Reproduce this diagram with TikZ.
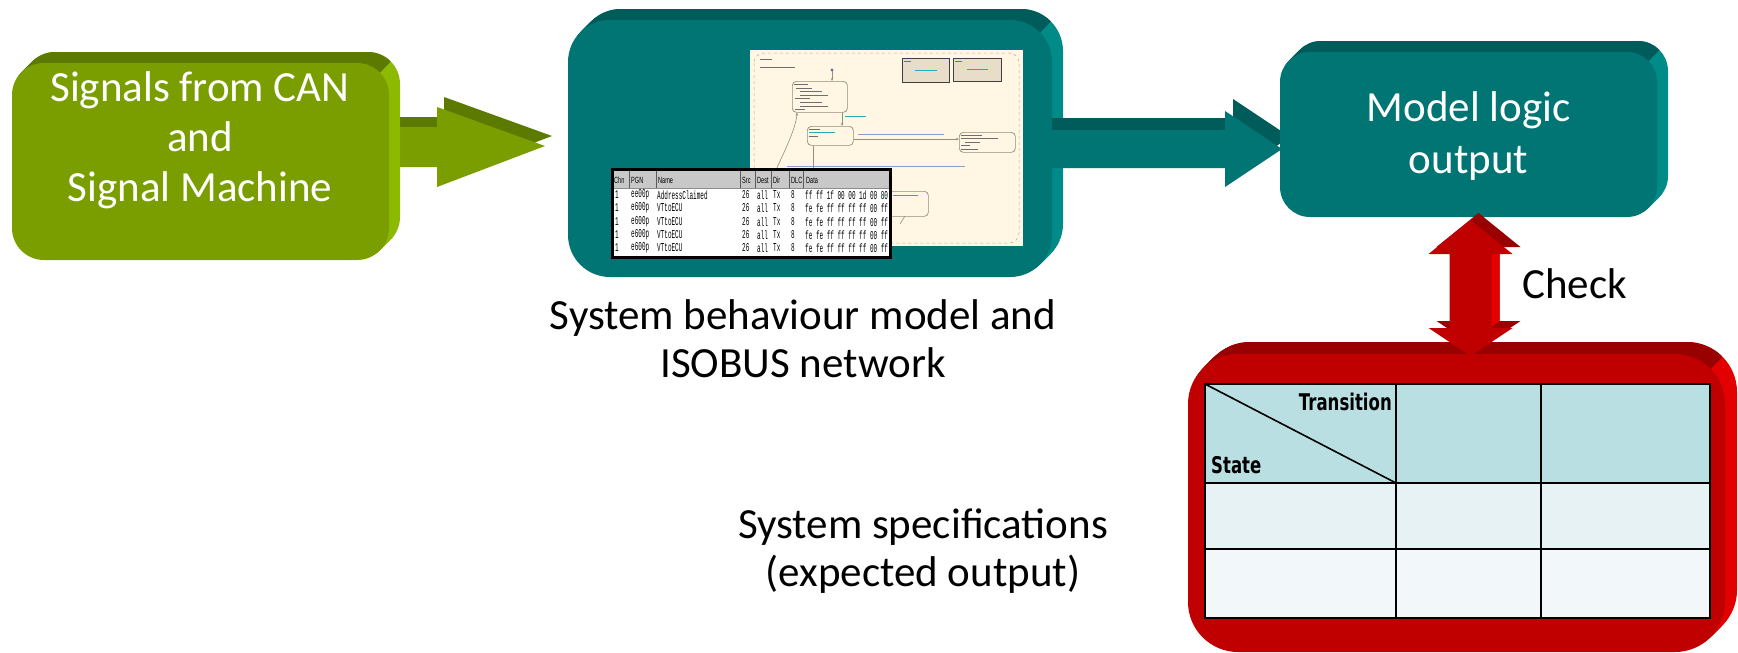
\documentclass[tikz,border=0pt]{standalone}
\usepackage{fontspec}
\usepackage{graphicx}
\setmainfont{Carlito}
\newfontfamily\canmono{Liberation Mono}
\newfontfamily\cansans{Liberation Sans}
\newfontfamily\cellsans{DejaVu Sans}
\usetikzlibrary{calc,arrows.meta}

\definecolor{grnF}{RGB}{122,158,0}
\definecolor{grnT}{RGB}{92,122,0}
\definecolor{grnS}{RGB}{140,186,0}
\definecolor{tealF}{RGB}{0,117,115}
\definecolor{tealT}{RGB}{0,92,90}
\definecolor{tealS}{RGB}{0,138,136}
\definecolor{redF}{RGB}{192,0,0}
\definecolor{redT}{RGB}{153,0,0}
\definecolor{redS}{RGB}{226,0,0}
\definecolor{hdrCell}{RGB}{185,223,227}
\definecolor{rowA}{RGB}{230,242,244}
\definecolor{rowB}{RGB}{242,247,250}
\definecolor{cream}{RGB}{255,246,228}
\definecolor{chartLine}{RGB}{150,140,120}
\definecolor{chartTan}{RGB}{232,221,200}
\definecolor{canHead}{RGB}{200,200,200}
\definecolor{inkBlue}{RGB}{90,110,190}
\definecolor{inkTeal}{RGB}{40,170,190}
\definecolor{inkGray}{RGB}{110,110,110}

% Extruded rounded box: name, x1, y1, x2, y2 (outer bounds), depth, radius, colour prefix
\newcommand\extbox[8]{%
  \foreach \stp in {1,...,#6} {
    \fill[#8S, rounded corners=#7pt, xshift=\stp pt, yshift=\stp pt]
      (#2,#3+#6) rectangle (#4-#6,#5);
  }
  \begin{scope}
    \clip (#2-80,#3-80) -- (#4+80,#3-80) -- (#2-80,#4+#3-#2+80) -- cycle;
    \foreach \stp in {1,...,#6} {
      \fill[#8T, rounded corners=#7pt, xshift=\stp pt, yshift=\stp pt]
        (#2,#3+#6) rectangle (#4-#6,#5);
    }
  \end{scope}
  \node[fill=#8F, rounded corners=#7pt, inner sep=0pt, outer sep=0pt,
        minimum width={(#4-#6-#2)*1pt}, minimum height={(#5-#3-#6)*1pt},
        anchor=north west] (#1) at (#2,#3+#6) {};
}

% One line of the CAN trace
\newcommand\canrow[4]{%
  \node[cancell] at (615,#1) {\scalebox{0.5}[1]{1}};
  \node[cancell] at (631,#1) {\scalebox{0.5}[1]{#2}};
  \node[cancell] at (657,#1) {\scalebox{0.5}[1]{#3}};
  \node[cancell] at (742,#1) {\scalebox{0.5}[1]{26}};
  \node[cancell] at (757,#1) {\scalebox{0.5}[1]{all}};
  \node[cancell] at (773,#1) {\scalebox{0.5}[1]{Tx}};
  \node[cancell] at (791,#1) {\scalebox{0.5}[1]{8}};
  \node[cancell] at (805,#1) {\scalebox{0.5}[1]{#4}};
}

\tikzset{
  boxtext/.style={text=white, align=center, inner sep=0pt, font=\fontsize{43}{50}\selectfont},
  caption/.style={text=black, align=center, inner sep=0pt, font=\fontsize{43}{48}\selectfont},
  tblhead/.style={inner sep=0pt, font=\cellsans\bfseries\fontsize{23}{23}\selectfont},
  cancell/.style={anchor=west, inner sep=0pt, font=\canmono\fontsize{12}{12}\selectfont},
  canhead/.style={anchor=west, inner sep=0pt, font=\cansans\fontsize{9}{9}\selectfont},
  chartbox/.style={draw=chartLine, fill=cream, line width=0.7pt, rounded corners=4pt},
  chartedge/.style={draw=chartLine, line width=0.6pt},
  chartarrow/.style={chartedge, -{Stealth[length=3pt,width=2.5pt]}},
  greek/.style={line width=1pt},
  gridline/.style={line width=1.8pt, draw=black},
}

\begin{document}
\begin{tikzpicture}[x=1pt,y=-1pt]
\useasboundingbox (0,0) rectangle (1738,653);
\fill[white] (0,0) rectangle (1738,653);

% ---------- input signals ----------
\extbox{sig}{12}{52}{400}{260}{11}{32}{grn}
\node[boxtext] (sigtext) at (200,140) {Signals from CAN\\and\\Signal Machine};

\path (sig.east |- 0,147) ++(11,0) coordinate (gs);
\begin{scope}[shift={(gs)}]
  \begin{scope}[shift={(7,-10)}]
    \fill[grnT] (-7,-20) -- (37,-20) -- (37,-40) -- (145,-1) -- (37,40) -- (37,20) -- (-7,20) -- cycle;
  \end{scope}
  \fill[grnF] (0,-20) -- (37,-20) -- (37,-40) -- (145,-1) -- (37,40) -- (37,20) -- (0,20) -- cycle;
\end{scope}

% ---------- behaviour model ----------
\extbox{beh}{568}{9}{1063}{277}{11}{42}{teal}

% state chart
\fill[cream] (750,50) rectangle (1023,246);
\draw[chartLine!70, dashed, line width=0.5pt, rounded corners=10pt] (754,53) rectangle (1019,243);
\draw[greek, inkGray] (760,59) -- (772,59);
\draw[greek, inkGray] (760,67) -- (795,67);
\fill[inkBlue] (832,70) circle (1.6);
\draw[chartarrow] (832,71) -- (832,81);
\node[chartbox, minimum width=55pt, minimum height=31pt, anchor=north west, inner sep=0pt] (s1) at (792,81) {};
\foreach \lnY/\lnA/\lnB in {84/794/808, 88/796/812, 91/800/822, 95/800/828, 98/795/810, 102/800/822, 106/800/828, 109/795/805}
  \draw[greek, inkGray, line width=0.8pt] (\lnA,\lnY) -- (\lnB,\lnY);
\node[chartbox, minimum width=46pt, minimum height=19pt, anchor=north west, inner sep=0pt] (s2) at (807,126) {};
\draw[greek, inkGray, line width=0.8pt] (809,129) -- (820,129);
\draw[greek, inkTeal, line width=0.8pt] (809,132) -- (835,132);
\draw[greek, inkGray, line width=0.8pt] (809,136) -- (818,136);
\node[chartbox, minimum width=56pt, minimum height=20pt, anchor=north west, inner sep=0pt] (s3) at (959,132) {};
\foreach \lnY/\lnA/\lnB in {135/961/982, 138/961/998, 142/965/980, 145/961/970, 149/961/978}
  \draw[greek, inkGray, line width=0.8pt] (\lnA,\lnY) -- (\lnB,\lnY);
\draw[chartarrow] (s1.south -| 842,0) -- (s2.north -| 842,0);
\draw[greek, inkTeal, line width=0.8pt] (845,116) -- (866,116);
\draw[chartarrow] (s2.east |- 0,139) -- (s3.west |- 0,139);
\draw[greek, inkBlue!70, line width=0.8pt] (858,134) -- (944,134);
\draw[chartedge] (s2.south -| 813,0) -- (813,169);
\draw[chartarrow] (776,170) .. controls (785,150) and (796,128) .. (s1.south -| 797,0);
\draw[greek, inkBlue!70, line width=0.8pt] (787,166) -- (965,166);
\node[chartbox, minimum width=48pt, minimum height=25pt, anchor=north west, inner sep=0pt] (s4) at (880,191) {};
\draw[greek, inkTeal, line width=0.8pt] (893,195) -- (918,195);
\draw[chartedge] (905,216) -- (900,224);
\node[draw=black!75, fill=chartTan, line width=1.2pt, minimum width=47pt, minimum height=24pt, anchor=north west, inner sep=0pt] (f1) at (902,58) {};
\node[draw=black!75, fill=chartTan, line width=1.2pt, minimum width=48pt, minimum height=23pt, anchor=north west, inner sep=0pt] (f2) at (953,58) {};
\draw[greek, inkBlue, line width=0.8pt] (904,61) -- (911,61);
\draw[greek, inkTeal, line width=0.8pt] (915,70) -- (937,70);
\draw[greek, inkBlue, line width=0.8pt] (955,61) -- (962,61);
\draw[greek, inkTeal, line width=0.8pt] (967,69) -- (988,69);

% CAN trace
\fill[white] (612,169) rectangle (890,257);
\fill[canHead] (612,169) rectangle (890,188);
\foreach \cx in {629,656,740,755,771,789,803}
  \draw[black!65, line width=0.7pt] (\cx,170) -- (\cx,188);
\draw[black!45, line width=0.7pt] (612,188) -- (890,188);
\draw[black, line width=3pt] (612,169) rectangle (890,257);
\foreach \hx/\htxt in {614/Chn, 631/PGN, 658/Name, 742/Src, 757/Dest, 773/Dir, 791/DLC, 806/Data}
  \node[canhead] at (\hx,180) {\scalebox{0.62}[1]{\htxt}};
\canrow{195}{ee00p}{AddressClaimed}{ff ff 1f 00 00 1d 00 80}
\canrow{208}{e600p}{VTtoECU}{fe fe ff ff ff ff 00 ff}
\canrow{222}{e600p}{VTtoECU}{fe fe ff ff ff ff 00 ff}
\canrow{235}{e600p}{VTtoECU}{fe fe ff ff ff ff 00 ff}
\canrow{248}{e600p}{VTtoECU}{fe fe ff ff ff ff 00 ff}

% ---------- model output ----------
\path (beh.east |- 0,149) coordinate (ts);
\begin{scope}[shift={(ts)}]
  \begin{scope}[shift={(8,-12)}]
    \fill[tealT] (-8,-19) -- (173,-19) -- (173,-38) -- (230,0) -- (173,38) -- (173,19) -- (-8,19) -- cycle;
  \end{scope}
  \fill[tealF] (0,-19) -- (173,-19) -- (173,-38) -- (230,0) -- (173,38) -- (173,19) -- (0,19) -- cycle;
\end{scope}

\extbox{out}{1280}{41}{1668}{217}{11}{30}{teal}
\node[boxtext, font=\fontsize{43}{52}\selectfont] (outtext) at ([yshift=-2pt]out.center) {Model logic\\output};

% ---------- specification table ----------
\extbox{spec}{1188}{342}{1737}{652}{12}{50}{red}
\fill[hdrCell] (1205,384) rectangle (1710,483);
\fill[rowA] (1205,483) rectangle (1710,549);
\fill[rowB] (1205,549) rectangle (1710,618);
\draw[gridline] (1205,384) rectangle (1710,618);
\draw[gridline] (1396,384) -- (1396,618);
\draw[gridline] (1541,384) -- (1541,618);
\draw[gridline] (1205,483) -- (1710,483);
\draw[gridline] (1205,549) -- (1710,549);
\draw[line width=1.6pt] (1205,384) -- (1396,483);
\node[tblhead, anchor=east] (trans) at (1392,402) {\scalebox{0.72}[1]{Transition}};
\node[tblhead, anchor=west] (state) at (1211,465) {\scalebox{0.72}[1]{State}};

% ---------- check arrow ----------
\path (out.south) ++(2,3) coordinate (cs);
\begin{scope}[shift={(cs)}]
  \begin{scope}[shift={(8,-7)}]
    \fill[redT] (0,0) -- (42,34) -- (21,34) -- (21,108) -- (42,108) -- (0,136) -- (-42,108) -- (-21,108) -- (-21,34) -- (-42,34) -- cycle;
  \end{scope}
  \fill[redS] (20,34) -- (29,27) -- (29,101) -- (20,108) -- cycle;
  \fill[redF] (0,0) -- (42,34) -- (21,34) -- (21,108) -- (42,108) -- (0,136) -- (-42,108) -- (-21,108) -- (-21,34) -- (-42,34) -- cycle;
\end{scope}
\node[caption, anchor=west] (check) at (1522,284) {Check};

% ---------- captions ----------
\node[caption] (behcap) at (803,339) {System behaviour model and\\ISOBUS network};
\node[caption] (speccap) at (923,551) {System specifications\\(expected output)};
\end{tikzpicture}
\end{document}
